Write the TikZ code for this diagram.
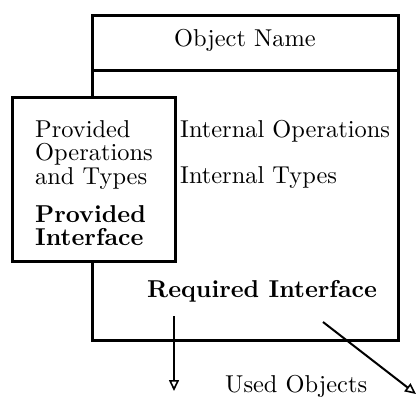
\documentclass[tikz,border=0pt]{standalone}
\usepackage{fontspec}
\setmainfont{lmroman10-regular.otf}[BoldFont=lmroman10-bold.otf]
\usetikzlibrary{arrows.meta}
\begin{document}
\begin{tikzpicture}[x=1pt,y=-1pt,
  box/.style={draw,line width=3pt,fill=white},
  lbl/.style={inner sep=0pt,font=\fontsize{24.4}{23.5}\selectfont},
  blbl/.style={inner sep=0pt,font=\fontsize{24.4}{23.5}\selectfont\bfseries},
  conn/.style={line width=2pt,-{Triangle[open,length=11pt,width=10pt,line width=1.6pt]}}]
\useasboundingbox (0,0) rectangle (417,399);
% main object box
\draw[box] (92,15) rectangle (398,340);
\draw[line width=3pt] (92,70) -- (398,70);
\node[lbl] (name) at (245,40) {Object Name};
% provided interface box
\draw[box] (12,97) rectangle (175,261);
\node[lbl,anchor=north west,align=left] (pot) at (35,120) {Provided\\Operations\\and Types};
\node[blbl,anchor=north west,align=left] (pi) at (35,205) {Provided\\Interface};
% internal
\node[lbl,anchor=west] (io) at (180,131) {Internal Operations};
\node[lbl,anchor=west] (it) at (180,178) {Internal Types};
\node[blbl,anchor=west] (ri) at (147,291) {Required Interface};
% used objects
\node[lbl,anchor=west] (uo) at (225,386) {Used Objects};
\coordinate (a1s) at (174,316);
\coordinate (a1e) at (174,391);
\coordinate (a2s) at (323,322);
\coordinate (a2e) at (416,394);
\draw[conn] (a1s) -- (a1e);
\draw[conn] (a2s) -- (a2e);
\end{tikzpicture}
\end{document}
